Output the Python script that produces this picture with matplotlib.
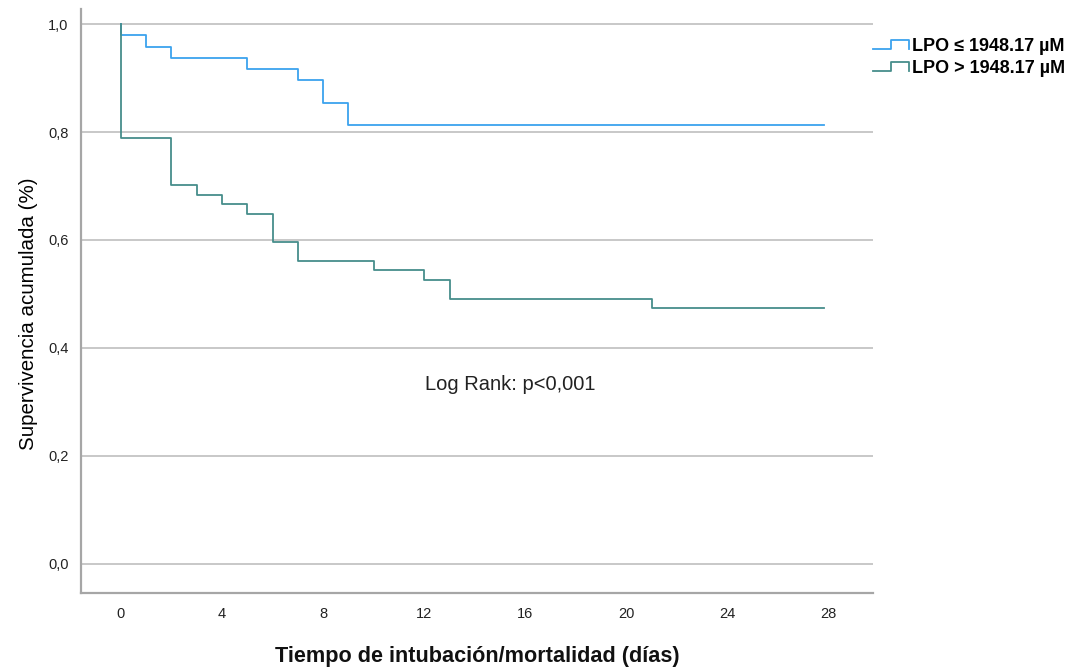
import numpy as np
import matplotlib
matplotlib.use("Agg")
import matplotlib.pyplot as plt
from matplotlib.lines import Line2D
from matplotlib.legend_handler import HandlerBase

# Curvas de Kaplan-Meier (tiempo en días, supervivencia acumulada)
dias_bajo = [0, 0, 1, 2, 5, 7, 8, 9, 27.8]
superv_bajo = [1.0, 0.979, 0.958, 0.9375, 0.917, 0.896, 0.854, 0.8125, 0.8125]

dias_alto = [0, 0, 2, 3, 4, 5, 6, 7, 10, 12, 13, 21, 27.8]
superv_alto = [1.0, 0.789, 0.702, 0.684, 0.667, 0.649, 0.596, 0.561,
               0.544, 0.526, 0.491, 0.4737, 0.4737]

etiquetas = ["LPO \u2264 1948.17 \u00b5M", "LPO > 1948.17 \u00b5M"]
colores = ["#3ca3ee", "#468e8b"]

ticks_x = [0, 4, 8, 12, 16, 20, 24, 28]
ticks_y = [0.0, 0.2, 0.4, 0.6, 0.8, 1.0]
texto_logrank = "Log Rank: p<0,001"

plt.rcParams["font.family"] = ["Liberation Sans", "DejaVu Sans"]


class HandlerEscalon(HandlerBase):
    # icono en forma de escalón, como en SPSS
    def create_artists(self, legend, orig_handle, xdescent, ydescent,
                       width, height, fontsize, trans):
        xs = np.array([0, 0.5, 0.5, 1.0, 1.0]) * width - xdescent
        ys = np.array([0.15, 0.15, 0.85, 0.85, 0.15]) * height - ydescent
        ln = Line2D(xs, ys, color=orig_handle.get_color(), lw=1.3,
                    transform=trans)
        return [ln]


fig = plt.figure(figsize=(10.71, 6.67), dpi=100)
ax = fig.add_axes([0.0756, 0.111, 0.7394, 0.8755])

for y in ticks_y:
    ax.axhline(y, color="#c8c8c8", lw=1.4, zorder=1)

h1, = ax.step(dias_bajo, superv_bajo, where="post", color=colores[0],
              lw=1.3, zorder=3)
h2, = ax.step(dias_alto, superv_alto, where="post", color=colores[1],
              lw=1.3, zorder=3)

ax.set_xlim(-1.58, 29.74)
ax.set_ylim(-0.0537, 1.0278)
ax.set_xticks(ticks_x)
ax.set_yticks(ticks_y)
ax.set_yticklabels([f"{v:.1f}".replace(".", ",") for v in ticks_y])
ax.tick_params(length=0, labelsize=10.5, colors="#222222", pad=9)
ax.tick_params(axis="x", pad=10)

for s in ["top", "right"]:
    ax.spines[s].set_visible(False)
for s in ["left", "bottom"]:
    ax.spines[s].set_color("#a6a6a6")
    ax.spines[s].set_linewidth(1.6)

ax.set_ylabel("Supervivencia acumulada (%)", fontsize=14.8, labelpad=7)
ax.yaxis.label.set_y(0.478)
ax.set_xlabel("Tiempo de intubación/mortalidad (días)", fontsize=15.6,
              fontweight="bold", labelpad=18, color="#111111")

ax.text(15.4, 0.333, texto_logrank, fontsize=14.5, ha="center", va="center",
        color="#222222")

fig.legend([h1, h2], etiquetas, loc="upper left",
           bbox_to_anchor=(0.8, 0.968), frameon=False,
           prop={"weight": "bold", "size": 13},
           handler_map={Line2D: HandlerEscalon()},
           handlelength=2.0, handletextpad=0.15, labelspacing=0.3)

fig.savefig("out.png", dpi=100)
plt.close(fig)
